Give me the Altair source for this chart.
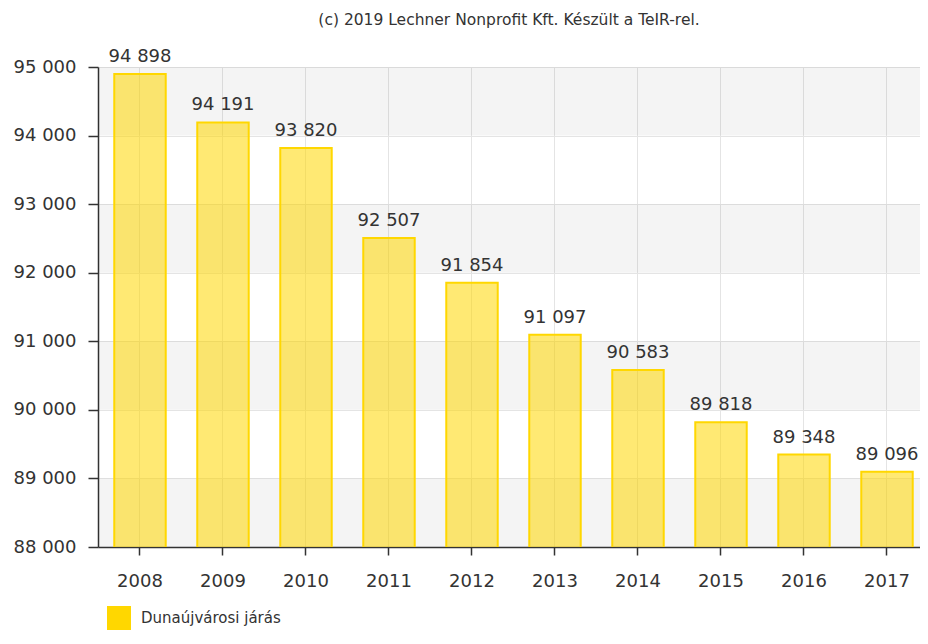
import altair as alt
import pandas as pd

years = ["2008", "2009", "2010", "2011", "2012", "2013", "2014", "2015", "2016", "2017"]
values = [94898, 94191, 93820, 92507, 91854, 91097, 90583, 89818, 89348, 89096]
series_name = "Dunaújvárosi járás"
band_starts = [88000, 90000, 92000, 94000]
title_text = "(c) 2019 Lechner Nonprofit Kft. Készült a TeIR-rel."

df = pd.DataFrame({"year": years, "value": values, "series": [series_name] * len(years)})
bands = pd.DataFrame({"y": band_starts, "y2": [b + 1000 for b in band_starts]})

FONT = "DejaVu Sans"
yscale = alt.Scale(domain=[88000, 95000], nice=False, zero=False)
xscale = alt.Scale(paddingInner=0.38, paddingOuter=0.1418, align=0.691)
fmt = "replace(format(datum.value, ','), ',', ' ')"

band_layer = alt.Chart(bands).mark_rect(fill="#000000", opacity=0.045).encode(
    x=alt.value(0),
    x2=alt.value("width"),
    y=alt.Y("y:Q", scale=yscale),
    y2="y2:Q",
)

bars = alt.Chart(df).mark_bar(fillOpacity=0.55, stroke="#FFD700", strokeWidth=2,
                              clip=True).encode(
    x=alt.X("year:N", scale=xscale, sort=years,
            axis=alt.Axis(title=None, labelAngle=0, grid=True, gridColor="#e4e4e4",
                          domainColor="#333333", tickColor="#333333", tickSize=8,
                          labelPadding=17, labelFontSize=18, labelFont=FONT,
                          labelColor="#333333")),
    y=alt.Y("value:Q", scale=yscale,
            axis=alt.Axis(title=None, values=list(range(88000, 95001, 1000)),
                          labelExpr=fmt, grid=True, gridColor="#e4e4e4",
                          domainColor="#333333", tickColor="#333333", tickSize=10,
                          labelPadding=12, labelFontSize=18, labelFont=FONT,
                          labelColor="#333333")),
    fill=alt.Fill("series:N", scale=alt.Scale(domain=[series_name], range=["#FFD700"]),
                  legend=alt.Legend(title=None, orient="none", legendX=9, legendY=539,
                                    symbolType="square", symbolSize=576,
                                    symbolOpacity=1, symbolStrokeWidth=0,
                                    labelFontSize=15, labelFont=FONT, labelColor="#333333",
                                    labelOffset=10, padding=0)),
)

labels = alt.Chart(df).transform_calculate(
    lab="replace(format(datum.value, ','), ',', ' ')"
).mark_text(baseline="alphabetic", dy=-12, fontSize=18, font=FONT, color="#333333").encode(
    x=alt.X("year:N", scale=xscale, sort=years),
    y=alt.Y("value:Q", scale=yscale),
    text="lab:N",
)

chart = alt.layer(band_layer, bars, labels).properties(
    width=822,
    height=480,
    title=alt.TitleParams(title_text, fontSize=15.5, font=FONT, fontWeight="normal",
                          color="#333333", anchor="middle", frame="group",
                          baseline="alphabetic", offset=7),
    autosize=alt.AutoSizeParams(type="none"),
    padding={"left": 90, "top": 59, "right": 0, "bottom": 85},
).configure_view(stroke=None).configure_axis(domainWidth=1.5, tickWidth=1.5)

chart.save("out.html", embed_options={"renderer": "svg", "actions": False})
